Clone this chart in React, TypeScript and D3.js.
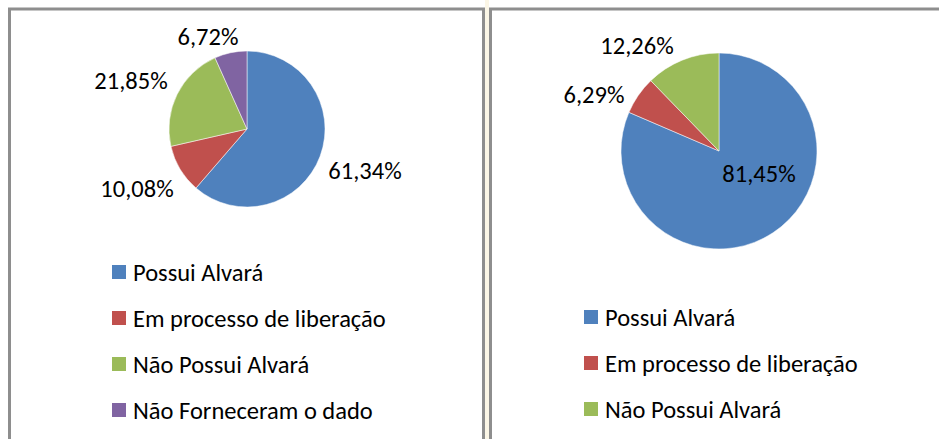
import React, { useEffect, useRef } from "react";
import * as d3 from "d3";

// categories and values (percent)
const categoriesLeft = [
  "Possui Alvará",
  "Em processo de liberação",
  "Não Possui Alvará",
  "Não Forneceram o dado",
];
const valuesLeft = [61.34, 10.08, 21.85, 6.72];

const categoriesRight = ["Possui Alvará", "Em processo de liberação", "Não Possui Alvará"];
const valuesRight = [81.45, 6.29, 12.26];

const colors = ["#4F81BD", "#C0504D", "#9BBB59", "#8064A2"];

// label centres relative to the pie centre (Excel "best fit" placement)
const labelOffsetsLeft: [number, number][] = [
  [118, 41],
  [-110, 59],
  [-116, -49],
  [-39, -93],
];
const labelOffsetsRight: [number, number][] = [
  [40, 22],
  [-125, -57],
  [-82, -106],
];

const W = 939;
const H = 439;
const FONT = "Carlito, Lato, 'Liberation Sans', sans-serif";
const FONT_SIZE = 24.5;

interface Datum {
  name: string;
  value: number;
}

const fmt = (v: number) => v.toFixed(2).replace(".", ",") + "%";

const App = () => {
  const ref = useRef<SVGSVGElement>(null);

  useEffect(() => {
    const svg = d3.select(ref.current);
    svg.selectAll("*").remove();

    svg.append("rect").attr("width", W).attr("height", H).attr("fill", "#fff");

    // cream gap between the two frames
    svg
      .append("rect")
      .attr("x", 485)
      .attr("y", 0)
      .attr("width", 4)
      .attr("height", H)
      .attr("fill", "#fbf6e6");

    // panel frames
    const frame = svg.append("g").attr("fill", "none").attr("stroke", "#8e8e8e").attr("stroke-width", 3);
    frame.append("path").attr("d", `M9.5,${H + 5}V9H483.5V${H + 5}`);
    frame.append("path").attr("d", `M490.5,${H + 5}V9H${W + 5}`);

    const drawChart = (
      names: string[],
      values: number[],
      offsets: [number, number][],
      cx: number,
      cy: number,
      r: number,
      legendX: number,
      legendY: number
    ) => {
      const data: Datum[] = names.map((n, i) => ({ name: n, value: values[i] }));
      const color = d3.scaleOrdinal<string, string>().domain(names).range(colors);

      const pie = d3
        .pie<Datum>()
        .sort(null)
        .value((d) => d.value);
      const arc = d3.arc<d3.PieArcDatum<Datum>>().innerRadius(0).outerRadius(r);
      const arcs = pie(data);

      const g = svg.append("g").attr("transform", `translate(${cx},${cy})`);
      g.selectAll("path")
        .data(arcs)
        .enter()
        .append("path")
        .attr("fill", (d) => color(d.data.name))
        .attr("stroke", "#fff")
        .attr("stroke-width", 0.5)
        .attr("d", arc);

      g.selectAll("text")
        .data(arcs)
        .enter()
        .append("text")
        .attr("x", (d, i) => offsets[i][0])
        .attr("y", (d, i) => offsets[i][1])
        .attr("dy", "0.35em")
        .attr("text-anchor", "middle")
        .attr("font-family", FONT)
        .attr("font-size", FONT_SIZE)
        .attr("fill", "#000")
        .text((d) => fmt(d.data.value));

      // legend
      const rows = d3
        .scalePoint<string>()
        .domain(names)
        .range([legendY, legendY + 46 * (names.length - 1)]);
      const lg = svg
        .append("g")
        .selectAll("g")
        .data(names)
        .enter()
        .append("g")
        .attr("transform", (d) => `translate(${legendX},${rows(d)})`);
      lg.append("rect")
        .attr("x", 0)
        .attr("y", -7)
        .attr("width", 14)
        .attr("height", 14)
        .attr("fill", (d) => color(d));
      lg.append("text")
        .attr("x", 21)
        .attr("dy", "0.35em")
        .attr("font-family", FONT)
        .attr("font-size", FONT_SIZE)
        .attr("fill", "#000")
        .text((d) => d);
    };

    drawChart(categoriesLeft, valuesLeft, labelOffsetsLeft, 247, 129, 78, 112, 272);
    drawChart(categoriesRight, valuesRight, labelOffsetsRight, 719, 151, 98, 584, 317);
  }, []);

  return (
    <div style={{ position: "absolute", left: 0, top: 0 }}>
      <svg ref={ref} width={W} height={H} style={{ display: "block" }} />
    </div>
  );
};

export default App;
